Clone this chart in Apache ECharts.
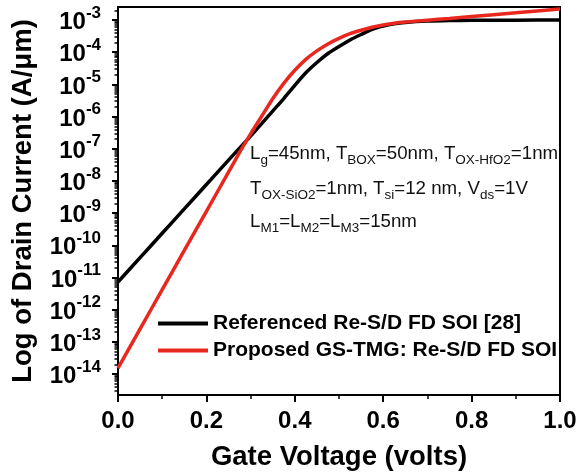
<!DOCTYPE html>
<html>
<head>
<meta charset="utf-8">
<script src="https://cdn.jsdelivr.net/npm/echarts@6/dist/echarts.min.js"></script>
<style>
html,body{margin:0;padding:0;background:#fff;}
#chart{width:583px;height:476px;}
</style>
</head>
<body>
<div id="chart"></div>
<script>
// Gate voltage (V)
const gateVoltage = [0.00, 0.05, 0.10, 0.15, 0.20, 0.25, 0.275, 0.30, 0.325, 0.35, 0.375, 0.40, 0.425, 0.45, 0.475, 0.50, 0.525, 0.55, 0.575, 0.60, 0.625, 0.65, 0.70, 0.75, 0.80, 0.90, 1.00];
// Drain current (A/um), Referenced Re-S/D FD SOI [28]
const referencedCurrent = [7.24e-12, 4.14e-11, 2.37e-10, 1.35e-9, 7.73e-9, 4.42e-8, 1.05e-7, 2.48e-7, 6.03e-7, 1.48e-6, 3.63e-6, 9.33e-6, 2.29e-5, 4.79e-5, 9.12e-5, 1.51e-4, 2.40e-4, 3.55e-4, 5.13e-4, 6.46e-4, 7.59e-4, 8.39e-4, 9.25e-4, 9.64e-4, 9.75e-4, 9.89e-4, 1.0e-3];
// Drain current (A/um), Proposed GS-TMG: Re-S/D FD SOI
const proposedCurrent = [1.53e-14, 2.54e-13, 4.19e-12, 6.92e-11, 1.14e-9, 1.87e-8, 7.69e-8, 2.91e-7, 1.02e-6, 3.58e-6, 1.08e-5, 2.75e-5, 6.01e-5, 1.10e-4, 1.81e-4, 2.70e-4, 3.75e-4, 4.79e-4, 5.93e-4, 6.95e-4, 7.89e-4, 8.61e-4, 9.86e-4, 1.12e-3, 1.28e-3, 1.67e-3, 2.20e-3];
// Y tick exponents (labels 10^n)
const yTickExponents = [-14, -13, -12, -11, -10, -9, -8, -7, -6, -5, -4, -3];
// X tick labels
const xTickLabels = ['0.0', '0.2', '0.4', '0.6', '0.8', '1.0'];
const seriesNames = ['Referenced Re-S/D FD SOI [28]', 'Proposed GS-TMG: Re-S/D FD SOI'];

const FONT = 'Liberation Sans, Arial, Helvetica, sans-serif';
const yMin = -14.65, yMax = -2.596;

const minorY = [];
for (let e = -15; e <= -3; e++) {
  for (let k = 2; k <= 9; k++) {
    const v = e + Math.log10(k);
    if (v > yMin && v < yMax) minorY.push(v);
  }
}

const chart = echarts.init(document.getElementById('chart'), null, {renderer: 'canvas'});
const toLog = (arr) => gateVoltage.map((v, i) => [v, Math.log10(arr[i])]);
const subRich = {s: {fontSize: 13.5, fontFamily: FONT, fill: '#111', padding: [13, 0, 0, 0]}};

chart.setOption({
  animation: false,
  backgroundColor: '#fff',
  textStyle: {fontFamily: FONT},
  grid: {left: 118, top: 7, width: 442, height: 388, show: true, borderColor: '#000', borderWidth: 2, backgroundColor: 'transparent'},
  xAxis: [{
    type: 'value', min: 0, max: 1, interval: 0.2,
    axisLine: {show: true, lineStyle: {color: '#000', width: 2}},
    axisTick: {show: true, length: 7, lineStyle: {color: '#000', width: 2}},
    minorTick: {show: true, splitNumber: 2, length: 4, lineStyle: {color: '#000', width: 1.5}},
    splitLine: {show: false},
    axisLabel: {
      margin: 14, fontSize: 24, fontWeight: 'bold', color: '#000', fontFamily: FONT,
      formatter: (v) => xTickLabels[Math.round(v / 0.2)]
    },
    name: 'Gate Voltage (volts)', nameLocation: 'middle', nameGap: 48,
    nameTextStyle: {fontSize: 27.5, fontWeight: 'bold', color: '#000', fontFamily: FONT}
  }],
  yAxis: [{
    type: 'value', min: yMin, max: yMax, position: 'left',
    axisLine: {show: true, lineStyle: {color: '#000', width: 2}},
    axisTick: {show: true, customValues: yTickExponents, length: 6, lineStyle: {color: '#000', width: 2}},
    splitLine: {show: false},
    axisLabel: {
      customValues: yTickExponents, margin: 17, color: '#000',
      formatter: (v) => '{b|10}{s|' + Math.round(v) + '}',
      rich: {
        b: {fontSize: 24, fontWeight: 'bold', fontFamily: FONT, color: '#000', padding: [5, 0, 0, 0]},
        s: {fontSize: 17, fontWeight: 'bold', fontFamily: FONT, color: '#000', padding: [0, 0, 14, 0]}
      }
    },
    name: 'Log of Drain Current (A/\u03bcm)', nameLocation: 'middle', nameGap: 81, nameRotate: 90,
    nameTextStyle: {fontSize: 27.5, fontWeight: 'bold', color: '#000', fontFamily: FONT}
  }, {
    type: 'value', min: yMin, max: yMax, position: 'left', offset: 0,
    axisLine: {show: false},
    axisTick: {show: true, customValues: minorY, length: 3.5, lineStyle: {color: '#000', width: 1.5}},
    axisLabel: {show: false},
    splitLine: {show: false}
  }],
  legend: {
    orient: 'vertical', left: 153, top: 308,
    icon: 'rect', itemWidth: 50, itemHeight: 4, itemGap: 6,
    data: seriesNames,
    textStyle: {fontSize: 21, fontWeight: 'bold', color: '#000', fontFamily: FONT, lineHeight: 21}
  },
  graphic: [
    {type: 'text', x: 250, y: 154, style: {
      text: 'L{s|g}=45nm, T{s|BOX}=50nm, T{s|OX-HfO2}=1nm', fill: '#111', fontSize: 18.7, fontFamily: FONT, verticalAlign: 'middle',
      rich: subRich
    }},
    {type: 'text', x: 250, y: 189, style: {
      text: 'T{s|OX-SiO2}=1nm, T{s|si}=12 nm, V{s|ds}=1V', fill: '#111', fontSize: 18.7, fontFamily: FONT, verticalAlign: 'middle',
      rich: subRich
    }},
    {type: 'text', x: 250, y: 222, style: {
      text: 'L{s|M1}=L{s|M2}=L{s|M3}=15nm', fill: '#111', fontSize: 18.7, fontFamily: FONT, verticalAlign: 'middle',
      rich: subRich
    }}
  ],
  series: [{
    name: seriesNames[0], type: 'line', data: toLog(referencedCurrent),
    showSymbol: false, symbol: 'none', smooth: 0.2,
    lineStyle: {color: '#000', width: 3.5}, itemStyle: {color: '#000'}, z: 3
  }, {
    name: seriesNames[1], type: 'line', data: toLog(proposedCurrent),
    showSymbol: false, symbol: 'none', smooth: 0.2,
    lineStyle: {color: '#e8281e', width: 3.5}, itemStyle: {color: '#e8281e'}, z: 4
  }]
});
</script>
</body>
</html>
